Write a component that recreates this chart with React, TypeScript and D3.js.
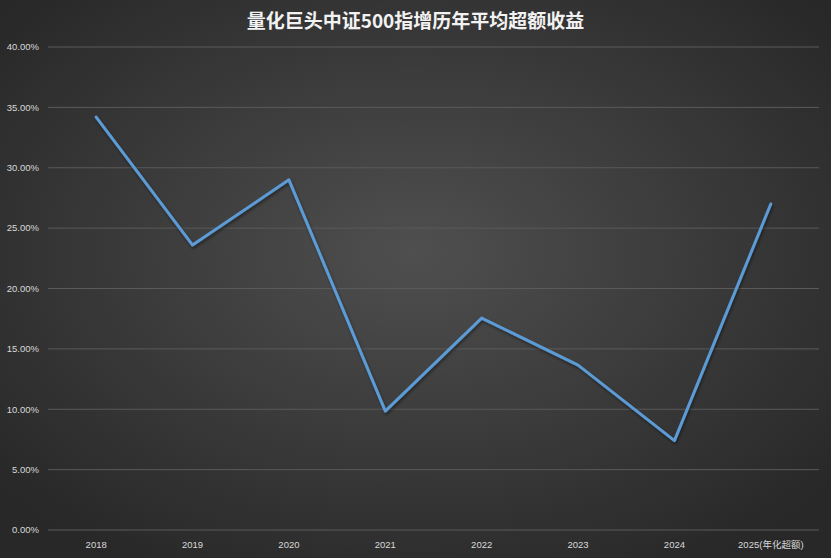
import React, { useEffect, useRef } from 'react';
import * as d3 from 'd3';

const title = '量化巨头中证500指增历年平均超额收益';
const years = ['2018', '2019', '2020', '2021', '2022', '2023', '2024', '2025(年化超额)'];
const excess = [34.2, 23.6, 29.0, 9.85, 17.55, 13.65, 7.4, 27.0];
const yTicks = [0, 5, 10, 15, 20, 25, 30, 35, 40];

const W = 831;
const H = 558;

const App: React.FC = () => {
  const svgRef = useRef<SVGSVGElement>(null);

  useEffect(() => {
    document.body.style.margin = '0';
    if (!svgRef.current) return;

    const svg = d3.select(svgRef.current);
    svg.selectAll('*').remove();

    const margin = { top: 47, right: 12, bottom: 28, left: 48 };

    // Background
    const defs = svg.append('defs');
    const grad = defs.append('radialGradient')
      .attr('id', 'bg')
      .attr('cx', '50%').attr('cy', '45%').attr('r', '65%');
    grad.append('stop').attr('offset', '0%').attr('stop-color', '#4f4f4f');
    grad.append('stop').attr('offset', '100%').attr('stop-color', '#282828');

    const shadow = defs.append('filter').attr('id', 'shadow')
      .attr('x', '-10%').attr('y', '-10%').attr('width', '120%').attr('height', '120%');
    shadow.append('feDropShadow')
      .attr('dx', 1).attr('dy', 2).attr('stdDeviation', 1.5)
      .attr('flood-color', '#000').attr('flood-opacity', 0.45);

    svg.append('rect').attr('width', W).attr('height', H).attr('fill', 'url(#bg)');

    const x = d3.scaleBand<string>()
      .domain(years)
      .range([margin.left, W - margin.right]);

    const y = d3.scaleLinear()
      .domain([0, 40])
      .range([H - margin.bottom, margin.top]);

    // Gridlines
    svg.append('g')
      .selectAll('line')
      .data(yTicks)
      .join('line')
      .attr('x1', margin.left)
      .attr('x2', W - margin.right)
      .attr('y1', d => y(d))
      .attr('y2', d => y(d))
      .attr('stroke', '#5a5a5a')
      .attr('stroke-width', 1);

    // Y labels
    svg.append('g')
      .selectAll('text')
      .data(yTicks)
      .join('text')
      .attr('x', margin.left - 9)
      .attr('y', d => y(d))
      .attr('dy', '0.35em')
      .attr('text-anchor', 'end')
      .attr('fill', '#d9d9d9')
      .attr('font-size', 9.5)
      .attr('font-family', '"Liberation Sans", Arial, sans-serif')
      .text(d => d.toFixed(2) + '%');

    // X labels
    svg.append('g')
      .selectAll('text')
      .data(years)
      .join('text')
      .attr('x', d => (x(d) ?? 0) + x.bandwidth() / 2)
      .attr('y', H - margin.bottom + 18)
      .attr('text-anchor', 'middle')
      .attr('fill', '#d9d9d9')
      .attr('font-size', 9.5)
      .attr('font-family', '"Liberation Sans", "Noto Sans CJK SC", sans-serif')
      .text(d => d);

    // Line
    const line = d3.line<number>()
      .x((_, i) => (x(years[i]) ?? 0) + x.bandwidth() / 2)
      .y(d => y(d));

    svg.append('path')
      .datum(excess)
      .attr('fill', 'none')
      .attr('stroke', '#5b9bd5')
      .attr('stroke-width', 3)
      .attr('stroke-linejoin', 'round')
      .attr('stroke-linecap', 'round')
      .attr('filter', 'url(#shadow)')
      .attr('d', line);

    // Title
    svg.append('text')
      .attr('x', W / 2)
      .attr('y', 28)
      .attr('text-anchor', 'middle')
      .attr('fill', '#f2f2f2')
      .attr('font-size', 19)
      .attr('font-weight', 'bold')
      .attr('font-family', '"Noto Sans CJK SC", sans-serif')
      .text(title);
  }, []);

  return <svg ref={svgRef} width={W} height={H} style={{ display: 'block' }} />;
};

export default App;
